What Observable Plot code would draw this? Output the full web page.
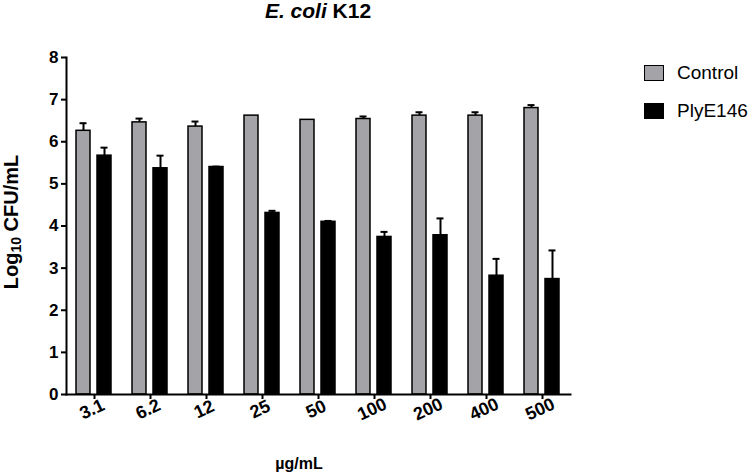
<!DOCTYPE html>
<html><head><meta charset="utf-8">
<script src="https://cdn.jsdelivr.net/npm/d3@7"></script>
<script src="https://cdn.jsdelivr.net/npm/@observablehq/plot@0.6"></script>
<style>
body{margin:0;background:#fff;font-family:"Liberation Sans",Arial,sans-serif;}
#wrap{position:relative;width:753px;height:476px;overflow:hidden;}
#wrap svg{position:absolute;left:0;top:0;}
.ov{position:absolute;color:#000;white-space:nowrap;}
#title{left:218px;width:200px;top:0;text-align:center;font-size:21px;font-weight:bold;line-height:1;}
#ylab{left:-89px;top:210px;width:200px;height:24px;line-height:24px;text-align:center;font-size:20px;font-weight:bold;transform:rotate(-90deg);}
#ylab sub{font-size:14px;vertical-align:-3px;line-height:0;}
#xlab{left:199px;width:200px;top:454px;text-align:center;font-size:16px;font-weight:bold;line-height:20px;}
.sw{position:absolute;width:18px;height:14px;border:1.5px solid #000;}
.lt{position:absolute;font-size:19px;line-height:22px;}
</style></head><body><div id="wrap"></div>
<script>
const concentrations = ["3.1","6.2","12","25","50","100","200","400","500"];
const series = ["Control","PlyE146"];
const controlMean = [6.26,6.46,6.36,6.62,6.52,6.54,6.62,6.62,6.80];
const controlErr  = [0.18,0.09,0.12,0.0,0.0,0.06,0.08,0.08,0.07];
const plyMean     = [5.67,5.37,5.40,4.31,4.10,3.74,3.78,2.82,2.74];
const plyErr      = [0.19,0.30,0.01,0.05,0.02,0.12,0.40,0.40,0.68];
const seriesColors = ["#a4a4a8","#000000"];
const yTicks = [0,1,2,3,4,5,6,7,8];

const data = [];
concentrations.forEach((c,i)=>{
  data.push({conc:c, series:series[0], mean:controlMean[i], err:controlErr[i]});
  data.push({conc:c, series:series[1], mean:plyMean[i], err:plyErr[i]});
});
const withErr = data.filter(d=>d.err>0);

const chart = Plot.plot({
  width:753, height:476,
  marginTop:57, marginBottom:82, marginLeft:63, marginRight:181,
  style:{fontFamily:"Liberation Sans, Arial, sans-serif", background:"transparent", color:"#000"},
  fx:{domain:concentrations, padding:0, axis:null, label:null},
  x:{domain:series, paddingInner:0.32, paddingOuter:0.44, axis:null},
  y:{domain:[0,8], axis:null},
  color:{domain:series, range:seriesColors},
  marks:[
    Plot.barY(data,{fx:"conc", x:"series", y:"mean", fill:"series", stroke:"#000", strokeWidth:1.5}),
    Plot.ruleX(withErr,{fx:"conc", x:"series", y1:"mean", y2:d=>d.mean+d.err, stroke:"#000", strokeWidth:2}),
    Plot.tickY(withErr,{fx:"conc", x:"series", y:d=>d.mean+d.err, stroke:"#000", strokeWidth:2, insetLeft:3.5, insetRight:3.5}),
    Plot.frame({anchor:"left", facet:"super", stroke:"#000", strokeWidth:2}),
    Plot.frame({anchor:"bottom", facet:"super", stroke:"#000", strokeWidth:2}),
    Plot.axisY({ticks:yTicks, tickSize:5, tickPadding:3, fontSize:17, fontWeight:"bold", label:null, strokeWidth:2, tickFormat:d=>String(d)}),
    Plot.axisFx({anchor:"bottom", tickSize:5, tickFormat:()=>"", label:null, strokeWidth:2}),
    Plot.text(concentrations,{fx:d=>d, text:d=>d, frameAnchor:"bottom", dy:20, rotate:-25, fontSize:18, fontWeight:"bold", textAnchor:"middle", fill:"#000"})
  ]
});
const wrap = document.getElementById("wrap");
wrap.appendChild(chart);

function ov(id, html){const d=document.createElement("div");d.className="ov";d.id=id;d.innerHTML=html;wrap.appendChild(d);return d;}
ov("title","<i>E. coli</i> K12");
ov("ylab","Log<sub>10</sub> CFU/mL");
ov("xlab","µg/mL");
const legTops=[65,103];
series.forEach((s,i)=>{
  const sw=document.createElement("div");sw.className="sw";
  sw.style.left="644px";sw.style.top=legTops[i]+"px";sw.style.background=seriesColors[i];
  wrap.appendChild(sw);
  const t=document.createElement("div");t.className="ov lt";t.textContent=s;
  t.style.left="677px";t.style.top=(legTops[i]-3)+"px";
  wrap.appendChild(t);
});
</script></body></html>
